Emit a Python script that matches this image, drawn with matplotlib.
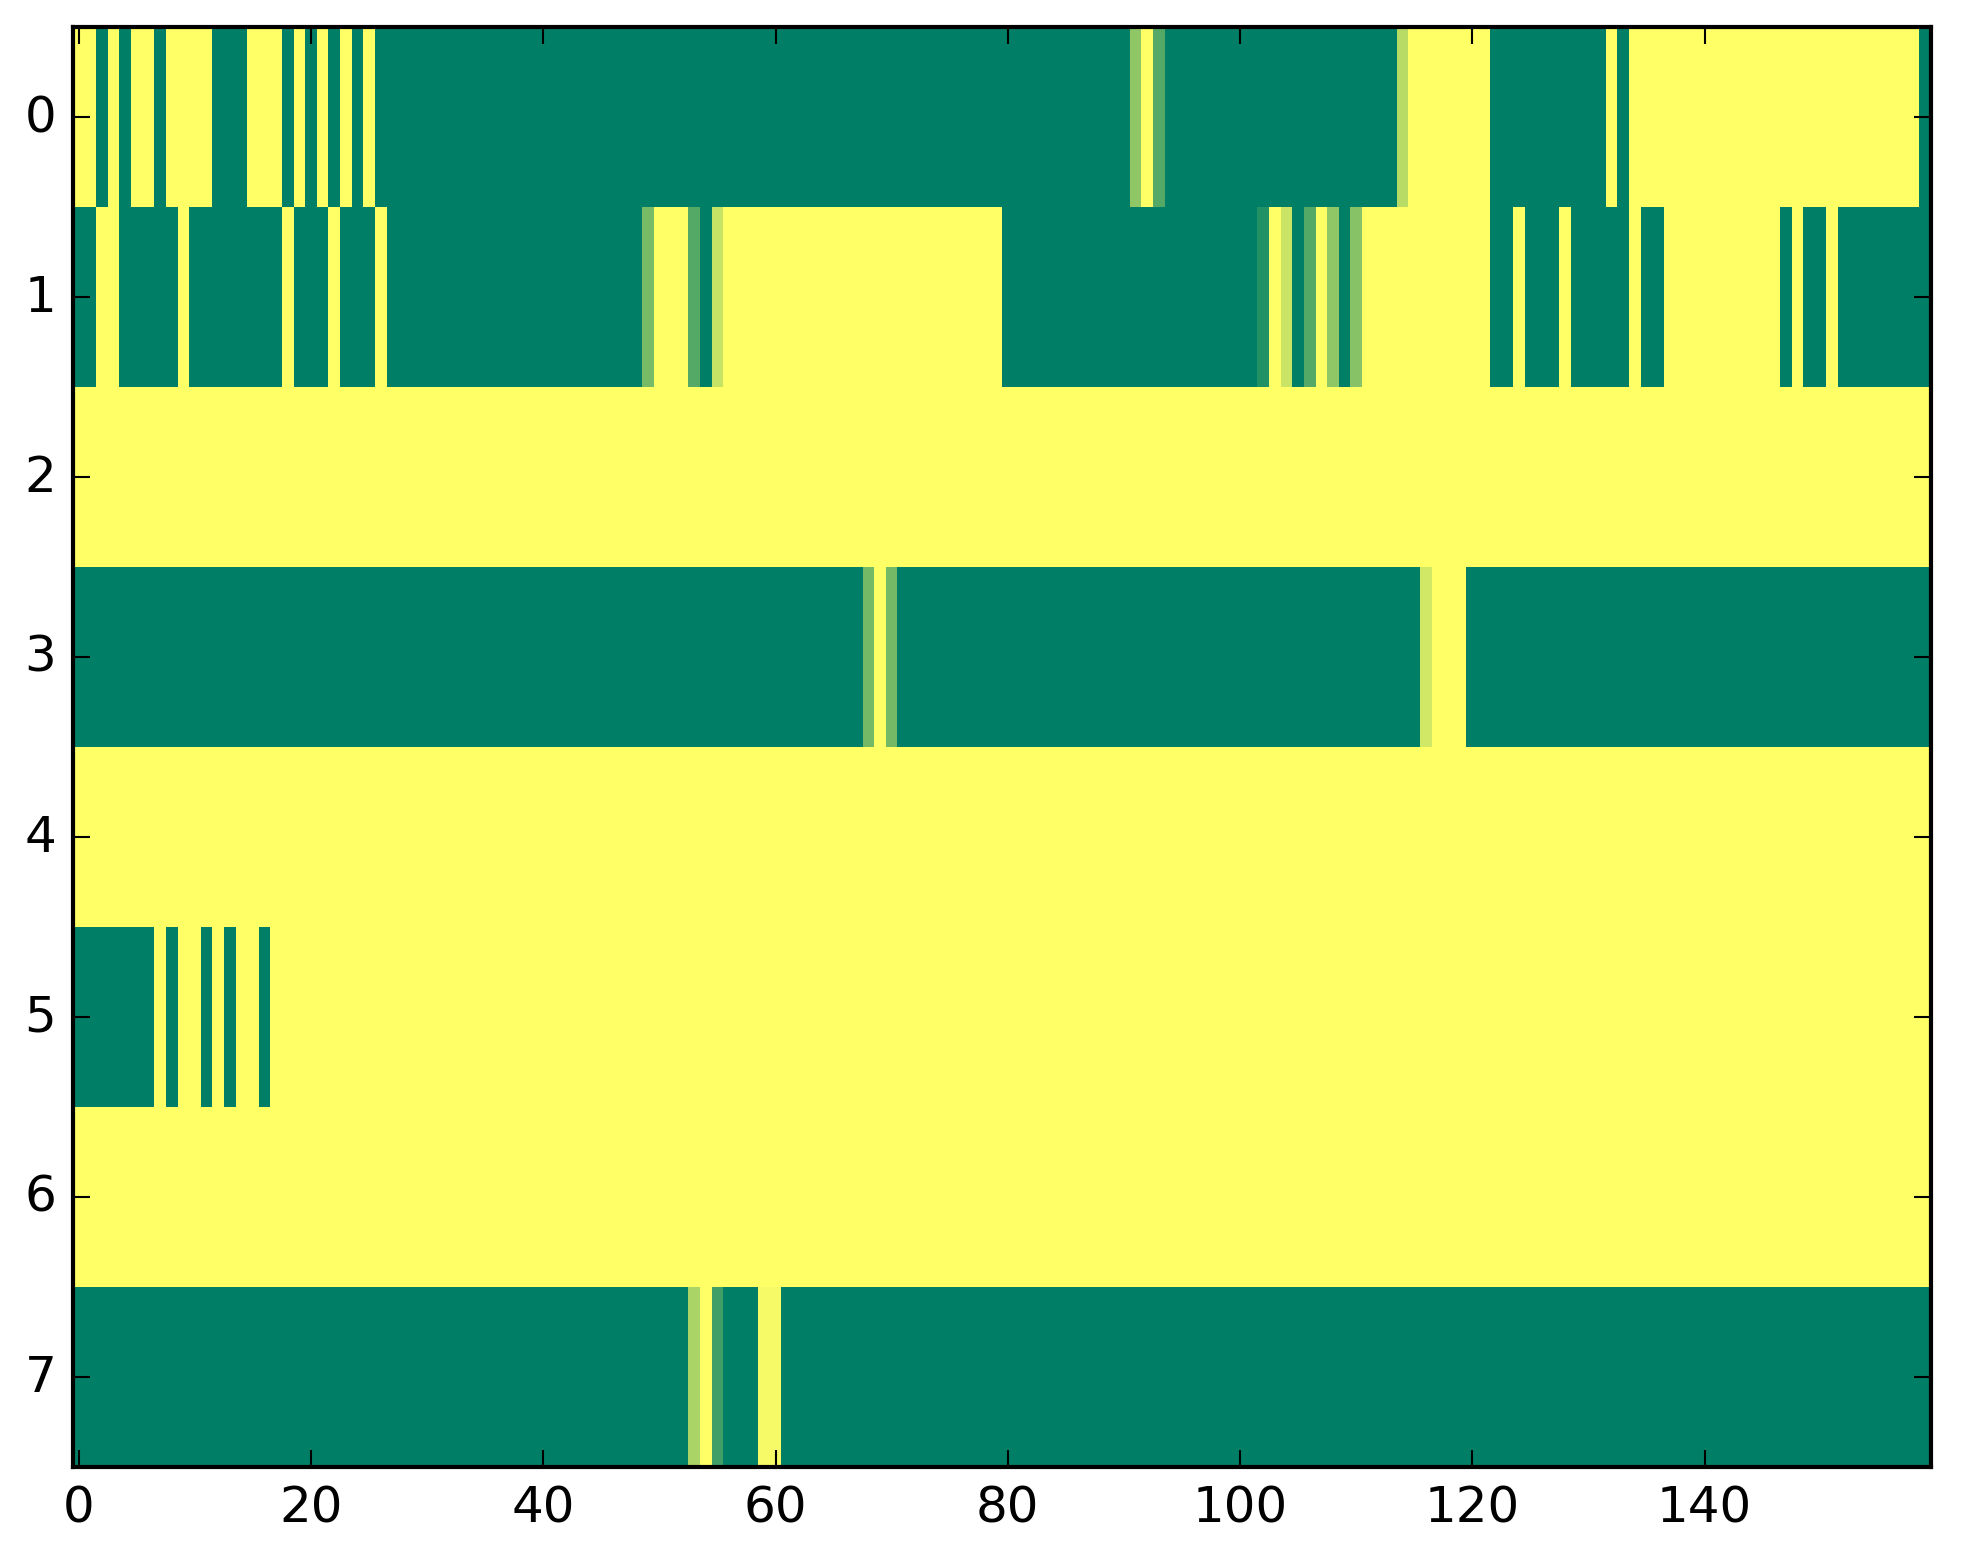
import matplotlib
matplotlib.use("Agg")
import matplotlib.pyplot as plt
import numpy as np

# one list per row, 160 cells each (0 = green, 1 = yellow in "summer")
row0 = [1, 1, 0, 1, 0, 1, 1, 0, 1, 1, 1, 1, 0, 0, 0, 1, 1, 1, 0, 1,
        0, 1, 0, 1, 0, 1, 0, 0, 0, 0, 0, 0, 0, 0, 0, 0, 0, 0, 0, 0,
        0, 0, 0, 0, 0, 0, 0, 0, 0, 0, 0, 0, 0, 0, 0, 0, 0, 0, 0, 0,
        0, 0, 0, 0, 0, 0, 0, 0, 0, 0, 0, 0, 0, 0, 0, 0, 0, 0, 0, 0,
        0, 0, 0, 0, 0, 0, 0, 0, 0, 0, 0, 0.56, 1, 0.33, 0, 0, 0, 0, 0, 0,
        0, 0, 0, 0, 0, 0, 0, 0, 0, 0, 0, 0, 0, 0, 0.72, 1, 1, 1, 1, 1,
        1, 1, 0, 0, 0, 0, 0, 0, 0, 0, 0, 0, 1, 0, 1, 1, 1, 1, 1, 1,
        1, 1, 1, 1, 1, 1, 1, 1, 1, 1, 1, 1, 1, 1, 1, 1, 1, 1, 1, 0]
row1 = [0, 0, 1, 1, 0, 0, 0, 0, 0, 1, 0, 0, 0, 0, 0, 0, 0, 0, 1, 0,
        0, 0, 1, 0, 0, 0, 1, 0, 0, 0, 0, 0, 0, 0, 0, 0, 0, 0, 0, 0,
        0, 0, 0, 0, 0, 0, 0, 0, 0, 0.47, 1, 1, 1, 0.33, 0, 0.78, 1, 1, 1, 1,
        1, 1, 1, 1, 1, 1, 1, 1, 1, 1, 1, 1, 1, 1, 1, 1, 1, 1, 1, 1,
        0, 0, 0, 0, 0, 0, 0, 0, 0, 0, 0, 0, 0, 0, 0, 0, 0, 0, 0, 0,
        0, 0, 0.14, 1, 0.79, 0, 0.33, 1, 0.56, 0, 0.53, 1, 1, 1, 1, 1, 1, 1, 1, 1,
        1, 1, 0, 0, 1, 0, 0, 0, 1, 0, 0, 0, 0, 0, 1, 0, 0, 1, 1, 1,
        1, 1, 1, 1, 1, 1, 1, 0, 1, 0, 0, 1, 0, 0, 0, 0, 0, 0, 0, 0]
row2 = [1, 1, 1, 1, 1, 1, 1, 1, 1, 1, 1, 1, 1, 1, 1, 1, 1, 1, 1, 1,
        1, 1, 1, 1, 1, 1, 1, 1, 1, 1, 1, 1, 1, 1, 1, 1, 1, 1, 1, 1,
        1, 1, 1, 1, 1, 1, 1, 1, 1, 1, 1, 1, 1, 1, 1, 1, 1, 1, 1, 1,
        1, 1, 1, 1, 1, 1, 1, 1, 1, 1, 1, 1, 1, 1, 1, 1, 1, 1, 1, 1,
        1, 1, 1, 1, 1, 1, 1, 1, 1, 1, 1, 1, 1, 1, 1, 1, 1, 1, 1, 1,
        1, 1, 1, 1, 1, 1, 1, 1, 1, 1, 1, 1, 1, 1, 1, 1, 1, 1, 1, 1,
        1, 1, 1, 1, 1, 1, 1, 1, 1, 1, 1, 1, 1, 1, 1, 1, 1, 1, 1, 1,
        1, 1, 1, 1, 1, 1, 1, 1, 1, 1, 1, 1, 1, 1, 1, 1, 1, 1, 1, 1]
row3 = [0, 0, 0, 0, 0, 0, 0, 0, 0, 0, 0, 0, 0, 0, 0, 0, 0, 0, 0, 0,
        0, 0, 0, 0, 0, 0, 0, 0, 0, 0, 0, 0, 0, 0, 0, 0, 0, 0, 0, 0,
        0, 0, 0, 0, 0, 0, 0, 0, 0, 0, 0, 0, 0, 0, 0, 0, 0, 0, 0, 0,
        0, 0, 0, 0, 0, 0, 0, 0, 0.45, 1, 0.45, 0, 0, 0, 0, 0, 0, 0, 0, 0,
        0, 0, 0, 0, 0, 0, 0, 0, 0, 0, 0, 0, 0, 0, 0, 0, 0, 0, 0, 0,
        0, 0, 0, 0, 0, 0, 0, 0, 0, 0, 0, 0, 0, 0, 0, 0, 0.82, 1, 1, 1,
        0, 0, 0, 0, 0, 0, 0, 0, 0, 0, 0, 0, 0, 0, 0, 0, 0, 0, 0, 0,
        0, 0, 0, 0, 0, 0, 0, 0, 0, 0, 0, 0, 0, 0, 0, 0, 0, 0, 0, 0]
row4 = list(row2)
row5 = [0, 0, 0, 0, 0, 0, 0, 1, 0, 1, 1, 0, 1, 0, 1, 1, 0, 1, 1, 1,
        1, 1, 1, 1, 1, 1, 1, 1, 1, 1, 1, 1, 1, 1, 1, 1, 1, 1, 1, 1,
        1, 1, 1, 1, 1, 1, 1, 1, 1, 1, 1, 1, 1, 1, 1, 1, 1, 1, 1, 1,
        1, 1, 1, 1, 1, 1, 1, 1, 1, 1, 1, 1, 1, 1, 1, 1, 1, 1, 1, 1,
        1, 1, 1, 1, 1, 1, 1, 1, 1, 1, 1, 1, 1, 1, 1, 1, 1, 1, 1, 1,
        1, 1, 1, 1, 1, 1, 1, 1, 1, 1, 1, 1, 1, 1, 1, 1, 1, 1, 1, 1,
        1, 1, 1, 1, 1, 1, 1, 1, 1, 1, 1, 1, 1, 1, 1, 1, 1, 1, 1, 1,
        1, 1, 1, 1, 1, 1, 1, 1, 1, 1, 1, 1, 1, 1, 1, 1, 1, 1, 1, 1]
row6 = list(row2)
row7 = [0, 0, 0, 0, 0, 0, 0, 0, 0, 0, 0, 0, 0, 0, 0, 0, 0, 0, 0, 0,
        0, 0, 0, 0, 0, 0, 0, 0, 0, 0, 0, 0, 0, 0, 0, 0, 0, 0, 0, 0,
        0, 0, 0, 0, 0, 0, 0, 0, 0, 0, 0, 0, 0, 0.67, 1, 0.25, 0, 0, 0, 0.96,
        0.96, 0, 0, 0, 0, 0, 0, 0, 0, 0, 0, 0, 0, 0, 0, 0, 0, 0, 0, 0,
        0, 0, 0, 0, 0, 0, 0, 0, 0, 0, 0, 0, 0, 0, 0, 0, 0, 0, 0, 0,
        0, 0, 0, 0, 0, 0, 0, 0, 0, 0, 0, 0, 0, 0, 0, 0, 0, 0, 0, 0,
        0, 0, 0, 0, 0, 0, 0, 0, 0, 0, 0, 0, 0, 0, 0, 0, 0, 0, 0, 0,
        0, 0, 0, 0, 0, 0, 0, 0, 0, 0, 0, 0, 0, 0, 0, 0, 0, 0, 0, 0]

x_ticks = [0, 20, 40, 60, 80, 100, 120, 140]
y_ticks = [0, 1, 2, 3, 4, 5, 6, 7]

plt.style.use("classic")

grid = np.array([row0, row1, row2, row3, row4, row5, row6, row7], dtype=float)

fig = plt.figure(figsize=(1963 / 300, 1564 / 300), dpi=300, facecolor="white")
ax = fig.add_axes([73 / 1963, 1 - 1468 / 1564, (1931 - 73) / 1963, (1468 - 28) / 1564])
ax.imshow(grid, cmap="summer", vmin=0, vmax=1, interpolation="nearest", aspect="auto")
ax.set_xticks(x_ticks)
ax.set_yticks(y_ticks)
ax.tick_params(labelsize=12)

fig.savefig("out.png", dpi=300, facecolor="white")
